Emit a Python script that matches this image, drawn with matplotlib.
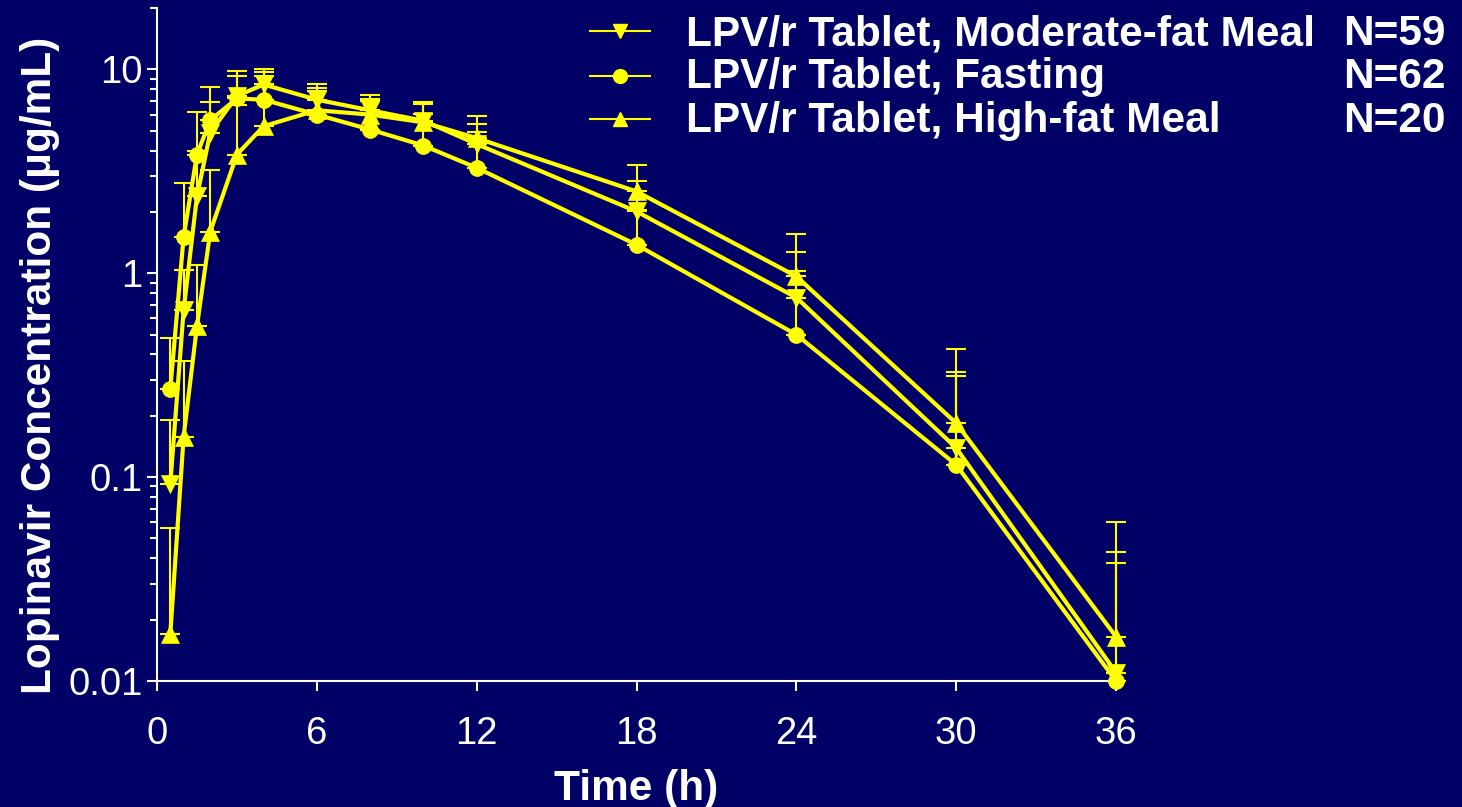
import numpy as np
import matplotlib
matplotlib.use("Agg")
import matplotlib.pyplot as plt
from matplotlib.lines import Line2D
from matplotlib.ticker import LogLocator, NullFormatter, FixedLocator

plt.rcParams['font.family'] = ['Liberation Sans', 'DejaVu Sans']

# ---- data ----
times = [0.5, 1, 1.5, 2, 3, 4, 6, 8, 10, 12, 18, 24, 30, 36]

moderate_mean = [0.093, 0.66, 2.38, 4.9, 7.4, 8.43, 7.1, 6.3, 5.6, 4.3, 2.01, 0.76, 0.139, 0.011]
moderate_upper = [0.19, 1.04, 3.97, 6.95, 9.8, 10.0, 8.5, 7.45, 6.9, 5.37, 2.85, 1.27, 0.326, 0.043]

fasting_mean = [0.27, 1.51, 3.82, 5.63, 7.2, 7.1, 6.0, 5.07, 4.23, 3.29, 1.38, 0.50, 0.115, 0.010]
fasting_upper = [0.48, 2.78, 6.17, 8.15, 9.3, 9.7, 7.8, 6.98, 6.05, 4.92, 2.05, 1.02, 0.314, 0.038]

highfat_mean = [0.017, 0.158, 0.55, 1.6, 3.82, 5.26, 6.3, 6.0, 5.5, 4.6, 2.52, 0.966, 0.184, 0.0165]
highfat_upper = [0.056, 0.37, 1.1, 3.2, 6.65, 9.33, 8.1, 7.18, 6.8, 5.89, 3.41, 1.55, 0.425, 0.060]

series_labels = ["LPV/r Tablet, Moderate-fat Meal", "LPV/r Tablet, Fasting", "LPV/r Tablet, High-fat Meal"]
series_n = ["N=59", "N=62", "N=20"]
x_ticks = [0, 6, 12, 18, 24, 30, 36]
y_ticks = [0.01, 0.1, 1, 10]
y_ticklabels = ["0.01", "0.1", "1", "10"]
x_label = "Time (h)"
y_label = "Lopinavir Concentration (\u03bcg/mL)"

# ---- style ----
BG = '#000066'
YEL = '#FFFF00'
W, H = 1462, 807

fig = plt.figure(figsize=(W / 100, H / 100), dpi=100, facecolor=BG)
ax = fig.add_axes([157 / W, 1 - 681 / H, (1116 - 157) / W, (681 - 8) / H])
ax.set_facecolor(BG)
ax.set_yscale('log')
ax.set_xlim(0, 36)
ax.set_ylim(0.01, 20)

series = [
    (moderate_mean, moderate_upper, 'v', 12.5),
    (fasting_mean, fasting_upper, 'o', 11.5),
    (highfat_mean, highfat_upper, '^', 12.5),
]
for mean, upper, mk, ms in series:
    mean = np.array(mean)
    upper = np.array(upper)
    ax.errorbar(times, mean, yerr=[np.zeros_like(mean), upper - mean], fmt='none',
                ecolor=YEL, elinewidth=1.5, capsize=7.5, capthick=1.5, clip_on=False, zorder=2)
    ax.plot(times, mean, marker=mk, color=YEL, lw=3, ms=ms, mec=YEL, mew=0.5,
            clip_on=False, zorder=3)

for s in ['top', 'right']:
    ax.spines[s].set_visible(False)
for s in ['left', 'bottom']:
    ax.spines[s].set_color('white')
    ax.spines[s].set_linewidth(1.5)

ax.set_xticks(x_ticks)
ax.set_xticklabels([str(t) for t in x_ticks])
ax.yaxis.set_major_locator(FixedLocator(y_ticks))
ax.set_yticklabels(y_ticklabels)
ax.yaxis.set_minor_locator(LogLocator(base=10, subs=np.arange(2, 10), numticks=20))
ax.yaxis.set_minor_formatter(NullFormatter())
ax.tick_params(axis='both', which='major', colors='white', labelsize=27.5, width=1.5, length=7.5)
ax.tick_params(axis='y', which='major', pad=3)
ax.tick_params(axis='x', which='major', pad=18)
ax.tick_params(axis='y', which='minor', colors='white', width=1.5, length=5)

ax.set_xlabel(x_label, fontsize=30.5, fontweight='bold', color='white', labelpad=12)
ax.set_ylabel(y_label, fontsize=30.5, fontweight='bold', color='white')
ax.yaxis.set_label_coords((60 - 157) / 959, (681 - 365) / 673)

# ---- legend (manual) ----
row_baselines = [45, 88, 132]
row_centers = [31, 76, 119]
markers = ['v', 'o', '^']
for lab, n, mk, yb, yc in zip(series_labels, series_n, markers, row_baselines, row_centers):
    fig.add_artist(Line2D([590 / W, 650 / W], [1 - yc / H, 1 - yc / H], color=YEL, lw=1.5,
                          transform=fig.transFigure))
    fig.add_artist(Line2D([620 / W], [1 - yc / H], color=YEL, marker=mk, ms=10, lw=0,
                          transform=fig.transFigure))
    fig.text(686 / W, 1 - yb / H, lab, color='white', fontsize=30.5, fontweight='bold',
             ha='left', va='baseline')
    fig.text(1446 / W, 1 - yb / H, n, color='white', fontsize=30.5, fontweight='bold',
             ha='right', va='baseline')

fig.savefig('out.png', dpi=100, facecolor=BG)
